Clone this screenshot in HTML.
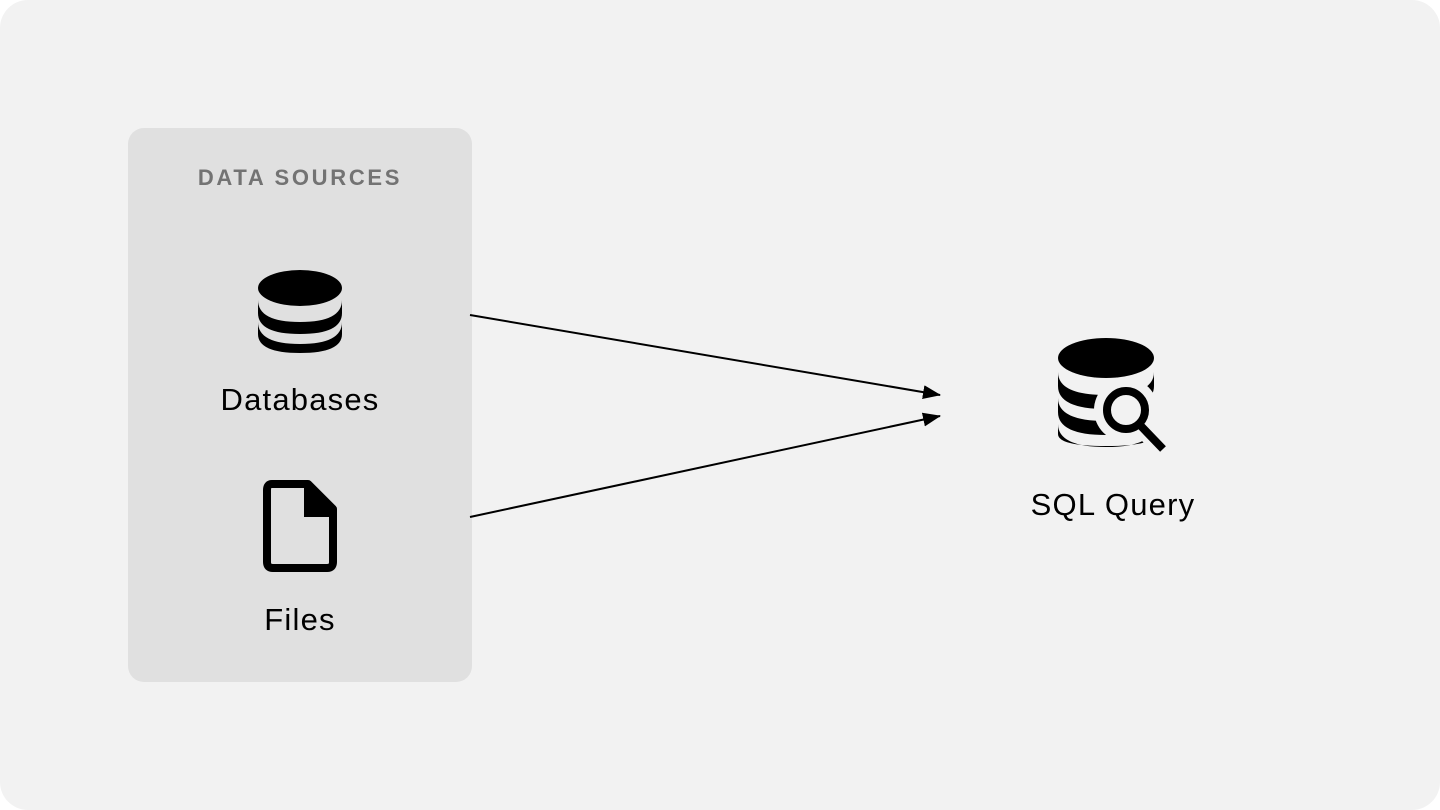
<!DOCTYPE html>
<html><head><style>
html,body{margin:0;padding:0;background:#fff;width:1440px;height:810px;overflow:hidden}
</style></head><body>
<svg width="1440" height="810" xmlns="http://www.w3.org/2000/svg" style="display:block">
<defs>
<marker id="a" markerWidth="18" markerHeight="14" refX="17" refY="7" orient="auto" markerUnits="userSpaceOnUse">
<path d="M0,0 L18,7 L0,14 Z" fill="#000"/></marker>
</defs>
<rect x="0" y="0" width="1440" height="810" rx="28" fill="#f2f2f2"/>
<rect x="128" y="128" width="344" height="554" rx="16" fill="#e0e0e0"/>
<text x="300" y="185" text-anchor="middle" font-family="Liberation Sans, sans-serif" font-size="22" font-weight="bold" letter-spacing="2.7" fill="#737373">DATA SOURCES</text>
<g fill="#000">
<ellipse cx="300" cy="288" rx="42" ry="18"/>
<path d="M258,300 Q258,322 300,322 Q342,322 342,300 L342,313 Q342,334 300,334 Q258,334 258,313 Z"/>
<path d="M258,322 Q258,344 300,344 Q342,344 342,322 L342,334 Q342,353 300,353 Q258,353 258,334 Z"/>
</g>
<text x="300" y="410" text-anchor="middle" font-family="Liberation Sans, sans-serif" font-size="31" letter-spacing="1.2" fill="#000">Databases</text>
<path d="M272,484 L308,484 L333,509 L333,562 Q333,568 327,568 L273,568 Q267,568 267,562 L267,490 Q267,484 272,484 Z" fill="none" stroke="#000" stroke-width="8" stroke-linejoin="round"/>
<path d="M304,484 L337,517 L304,517 Z" fill="#000"/>
<text x="300" y="630" text-anchor="middle" font-family="Liberation Sans, sans-serif" font-size="31" letter-spacing="1.2" fill="#000">Files</text>
<line x1="470" y1="315" x2="940" y2="395" stroke="#000" stroke-width="2" marker-end="url(#a)"/>
<line x1="470" y1="517" x2="940" y2="416" stroke="#000" stroke-width="2" marker-end="url(#a)"/>
<g fill="#000">
<ellipse cx="1106" cy="358" rx="48" ry="20"/>
<path d="M1058,372 Q1058,395 1106,395 Q1154,395 1154,372 L1154,386 Q1154,409 1106,409 Q1058,409 1058,386 Z"/>
<path d="M1058,398 Q1058,421 1106,421 Q1154,421 1154,398 L1154,412 Q1154,435 1106,435 Q1058,435 1058,412 Z"/>
<path d="M1058,424 Q1058,447 1106,447 Q1154,447 1154,424 L1154,434 Q1154,446 1106,446 Q1058,446 1058,434 Z"/>
</g>
<circle cx="1126" cy="410" r="32" fill="#f2f2f2"/>
<line x1="1140" y1="424" x2="1164" y2="450" stroke="#f2f2f2" stroke-width="20"/>
<circle cx="1126" cy="410" r="19" fill="none" stroke="#000" stroke-width="8"/>
<line x1="1139" y1="424" x2="1163" y2="449" stroke="#000" stroke-width="8"/>
<text x="1113" y="515" text-anchor="middle" font-family="Liberation Sans, sans-serif" font-size="31" letter-spacing="1.2" fill="#000">SQL Query</text>
</svg>
</body></html>
